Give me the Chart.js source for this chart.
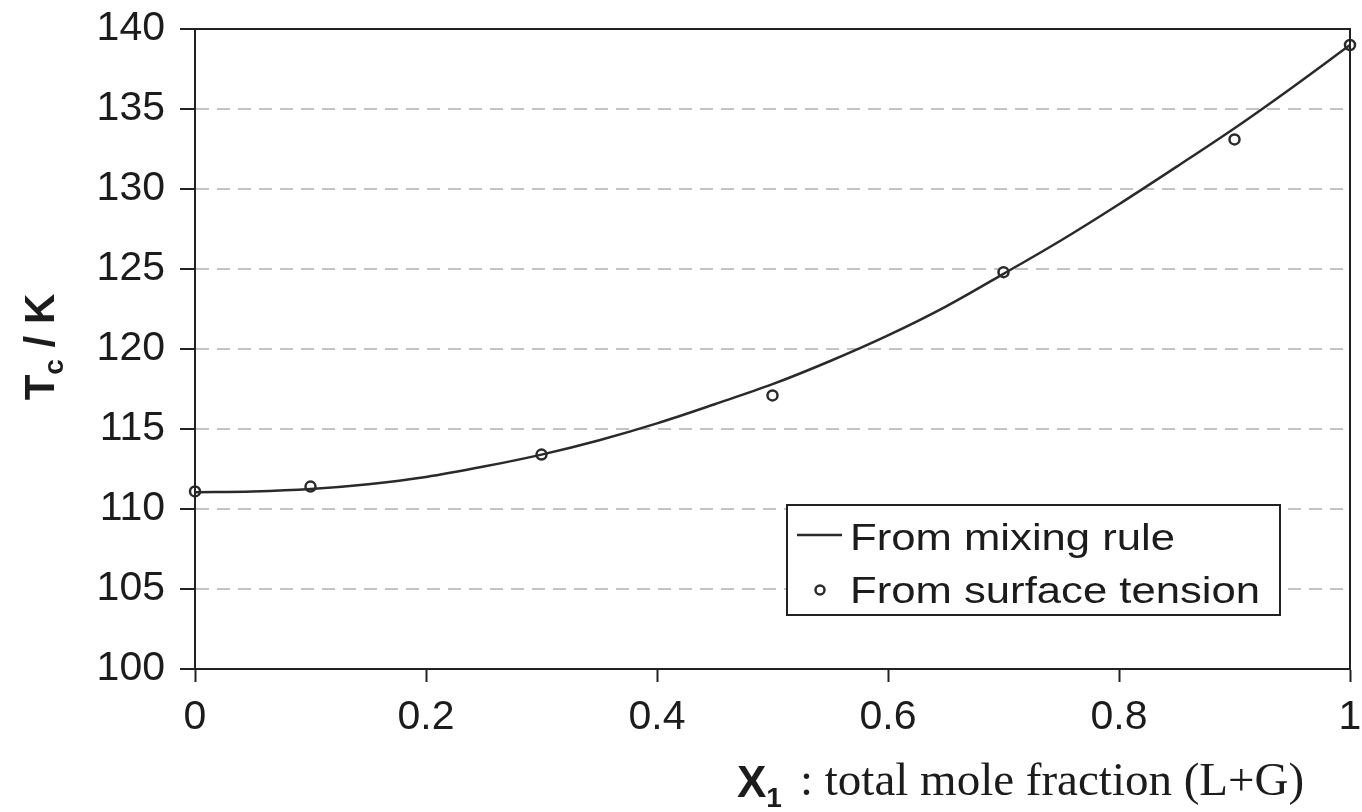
<!DOCTYPE html>
<html>
<head>
<meta charset="utf-8">
<title>Tc vs X1</title>
<script src="https://cdn.jsdelivr.net/npm/chart.js@4.4.1/dist/chart.umd.min.js"></script>
<style>
    html, body { margin: 0; padding: 0; background: #ffffff; }
    #wrap { width: 1362px; height: 812px; }
</style>
</head>
<body>
<div id="wrap"><canvas id="tcChart" width="1362" height="812"></canvas></div>
<script>
// mixing rule curve (smooth line)
const curveX = [0, 0.05, 0.1, 0.15, 0.2, 0.25, 0.3, 0.35, 0.4, 0.45, 0.5,
                0.55, 0.6, 0.65, 0.7, 0.75, 0.8, 0.85, 0.9, 0.95, 1.0];
const curveT = [111.05, 111.1, 111.25, 111.55, 112.0, 112.65, 113.4, 114.3, 115.35, 116.55, 117.8,
                119.25, 120.85, 122.65, 124.7, 126.8, 129.05, 131.4, 133.8, 136.35, 139.0];

// surface tension points
const pointX = [0, 0.1, 0.3, 0.5, 0.7, 0.9, 1.0];
const pointT = [111.1, 111.4, 113.4, 117.1, 124.8, 133.1, 139.0];

// axis ticks
const xTicks = [0, 0.2, 0.4, 0.6, 0.8, 1];
const yTicks = [100, 105, 110, 115, 120, 125, 130, 135, 140];

const legendLabels = ['From mixing rule', 'From surface tension'];

const INK = '#1c1c1c';

/**
 * Frame around the plot area, axis titles and the boxed legend
 */
const decorPlugin = {
    id: 'decor',
    afterDraw(chart) {
        const { ctx, chartArea: a } = chart;
        ctx.save();

        // box frame
        ctx.strokeStyle = '#222';
        ctx.lineWidth = 2;
        ctx.strokeRect(a.left, a.top, a.right - a.left, a.bottom - a.top);

        // y title: Tc / K (rotated)
        ctx.save();
        ctx.translate(54, 347);
        ctx.rotate(-Math.PI / 2);
        ctx.fillStyle = INK;
        ctx.textBaseline = 'alphabetic';
        ctx.font = 'bold 42px "Liberation Sans", Arial, sans-serif';
        const wT = ctx.measureText('T').width;
        ctx.font = 'bold 28px "Liberation Sans", Arial, sans-serif';
        const wc = ctx.measureText('c').width;
        ctx.font = 'bold 42px "Liberation Sans", Arial, sans-serif';
        const wRest = ctx.measureText(' / K').width;
        let x0 = -(wT + wc + wRest) / 2;
        ctx.fillText('T', x0, 0);
        ctx.font = 'bold 28px "Liberation Sans", Arial, sans-serif';
        ctx.fillText('c', x0 + wT, 9);
        ctx.font = 'bold 42px "Liberation Sans", Arial, sans-serif';
        ctx.fillText(' / K', x0 + wT + wc, 0);
        ctx.restore();

        // x title: X1 : total mole fraction (L+G)
        ctx.fillStyle = INK;
        ctx.textBaseline = 'alphabetic';
        ctx.font = 'bold 44px "Liberation Sans", Arial, sans-serif';
        ctx.fillText('X', 737, 797);
        const wX = ctx.measureText('X').width;
        ctx.font = 'bold 28px "Liberation Sans", Arial, sans-serif';
        ctx.fillText('1', 737 + wX, 807);
        ctx.font = '47px "Liberation Serif", "Times New Roman", serif';
        ctx.fillText(': total mole fraction (L+G)', 800, 795);

        // legend box
        const lx = 787, ly = 505, lw = 493, lh = 110;
        ctx.fillStyle = '#ffffff';
        ctx.fillRect(lx, ly, lw, lh);
        ctx.strokeStyle = '#222';
        ctx.lineWidth = 2;
        ctx.strokeRect(lx, ly, lw, lh);

        const curveDs = chart.data.datasets[0];
        const pointDs = chart.data.datasets[1];

        // line sample
        ctx.strokeStyle = curveDs.borderColor;
        ctx.lineWidth = curveDs.borderWidth;
        ctx.beginPath();
        ctx.moveTo(797, 535);
        ctx.lineTo(842, 535);
        ctx.stroke();

        // marker sample
        ctx.beginPath();
        ctx.arc(820, 590, pointDs.pointRadius - 0.5, 0, Math.PI * 2);
        ctx.fillStyle = pointDs.pointBackgroundColor;
        ctx.fill();
        ctx.strokeStyle = pointDs.pointBorderColor;
        ctx.lineWidth = pointDs.pointBorderWidth;
        ctx.stroke();

        // legend text, slightly widened
        ctx.fillStyle = INK;
        ctx.font = '37px "Liberation Sans", Arial, sans-serif';
        const drawWide = (txt, x, y) => {
            ctx.save();
            ctx.translate(x, y);
            ctx.scale(1.18, 1);
            ctx.fillText(txt, 0, 0);
            ctx.restore();
        };
        drawWide(legendLabels[0], 850, 550);
        drawWide(legendLabels[1], 850, 603);

        ctx.restore();
    }
};

new Chart(document.getElementById('tcChart'), {
    type: 'line',
    data: {
        datasets: [{
            label: legendLabels[0],
            data: curveX.map((x, i) => ({ x: x, y: curveT[i] })),
            borderColor: '#2a2a2a',
            borderWidth: 2.5,
            pointRadius: 0,
            fill: false,
            cubicInterpolationMode: 'monotone'
        }, {
            label: legendLabels[1],
            data: pointX.map((x, i) => ({ x: x, y: pointT[i] })),
            showLine: false,
            pointStyle: 'circle',
            pointRadius: 5,
            pointBorderWidth: 2.5,
            pointBorderColor: '#2a2a2a',
            pointBackgroundColor: '#ffffff',
            clip: false
        }]
    },
    options: {
        responsive: false,
        animation: false,
        devicePixelRatio: 1,
        layout: {
            padding: { top: 29, right: 12, left: 0, bottom: 0 }
        },
        plugins: {
            legend: { display: false },
            tooltip: { enabled: false }
        },
        scales: {
            x: {
                type: 'linear',
                min: 0,
                max: 1,
                afterBuildTicks: scale => { scale.ticks = xTicks.map(v => ({ value: v })); },
                afterFit: scale => {
                    scale.height = 143;
                    scale.paddingLeft = 0;
                    scale.paddingRight = 0;
                },
                grid: {
                    drawOnChartArea: false,
                    drawTicks: true,
                    tickLength: 13,
                    tickColor: '#222',
                    tickWidth: 2
                },
                border: { display: true, color: '#222', width: 2 },
                ticks: {
                    padding: 11,
                    color: INK,
                    font: { family: '"Liberation Sans", Arial, sans-serif', size: 41 },
                    maxRotation: 0,
                    callback: value => String(value)
                }
            },
            y: {
                type: 'linear',
                min: 100,
                max: 140,
                afterBuildTicks: scale => { scale.ticks = yTicks.map(v => ({ value: v })); },
                afterFit: scale => {
                    scale.width = 195;
                    scale.paddingTop = 0;
                    scale.paddingBottom = 0;
                },
                grid: {
                    color: '#c4c4c4',
                    lineWidth: 2,
                    drawTicks: true,
                    tickLength: 15,
                    tickColor: '#222',
                    tickWidth: 2,
                    tickBorderDash: []
                },
                border: { display: true, color: '#222', width: 2, dash: [13, 8] },
                ticks: {
                    padding: 15,
                    color: INK,
                    font: { family: '"Liberation Sans", Arial, sans-serif', size: 41 }
                }
            }
        }
    },
    plugins: [decorPlugin]
});
</script>
</body>
</html>
